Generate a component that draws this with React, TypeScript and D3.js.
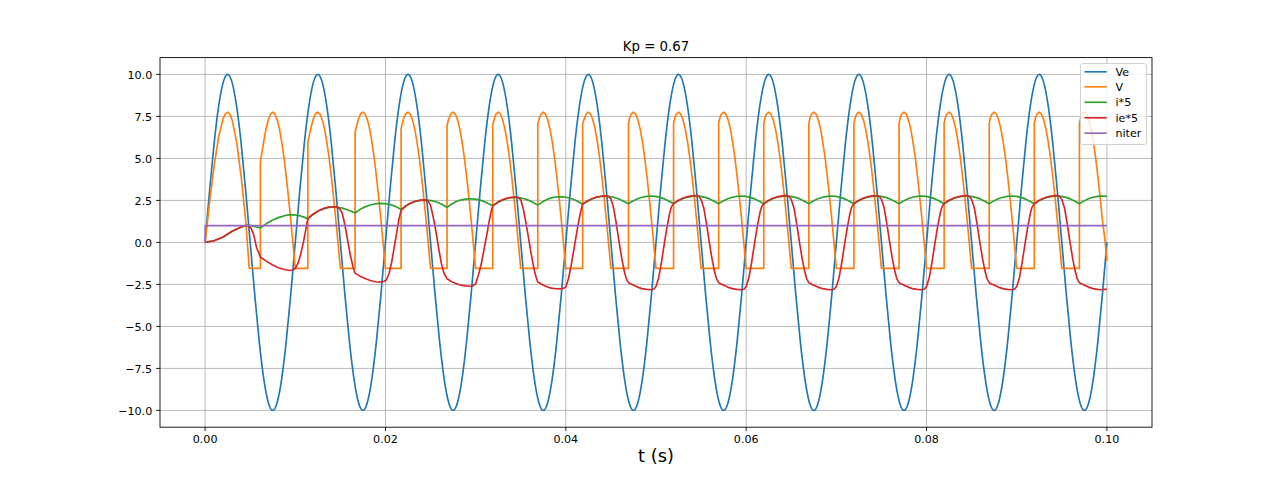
import React from 'react';
import * as d3 from 'd3';

type Pt = [number, number];

const TITLE = 'Kp = 0.67';
const X_LABEL = 't (s)';
const X_TICKS = [0, 0.02, 0.04, 0.06, 0.08, 0.1];
const Y_TICKS = [-10, -7.5, -5, -2.5, 0, 2.5, 5, 7.5, 10];
const SERIES_NAMES = ['Ve', 'V', 'i*5', 'ie*5', 'niter'];
const SERIES_COLORS = ['#1f77b4', '#ff7f0e', '#2ca02c', '#d62728', '#9467bd'];

// Ve sampled every 0.5 ms from t = 0
const VE_T0 = 0;
const VE_DT = 0.0005;
const VE_VALUES = [
  0, 3.09, 5.88, 8.09, 9.51, 10, 9.51, 8.09, 5.88, 3.09, 0, -3.09, -5.88, -8.09, -9.51, -10, -9.51, -8.09, -5.88, -3.09,
  0, 3.09, 5.88, 8.09, 9.51, 10, 9.51, 8.09, 5.88, 3.09, 0, -3.09, -5.88, -8.09, -9.51, -10, -9.51, -8.09, -5.88, -3.09,
  0, 3.09, 5.88, 8.09, 9.51, 10, 9.51, 8.09, 5.88, 3.09, 0, -3.09, -5.88, -8.09, -9.51, -10, -9.51, -8.09, -5.88, -3.09,
  0, 3.09, 5.88, 8.09, 9.51, 10, 9.51, 8.09, 5.88, 3.09, 0, -3.09, -5.88, -8.09, -9.51, -10, -9.51, -8.09, -5.88, -3.09,
  0, 3.09, 5.88, 8.09, 9.51, 10, 9.51, 8.09, 5.88, 3.09, 0, -3.09, -5.88, -8.09, -9.51, -10, -9.51, -8.09, -5.88, -3.09,
  0, 3.09, 5.88, 8.09, 9.51, 10, 9.51, 8.09, 5.88, 3.09, 0, -3.09, -5.88, -8.09, -9.51, -10, -9.51, -8.09, -5.88, -3.09,
  0, 3.09, 5.88, 8.09, 9.51, 10, 9.51, 8.09, 5.88, 3.09, 0, -3.09, -5.88, -8.09, -9.51, -10, -9.51, -8.09, -5.88, -3.09,
  0, 3.09, 5.88, 8.09, 9.51, 10, 9.51, 8.09, 5.88, 3.09, 0, -3.09, -5.88, -8.09, -9.51, -10, -9.51, -8.09, -5.88, -3.09,
  0, 3.09, 5.88, 8.09, 9.51, 10, 9.51, 8.09, 5.88, 3.09, 0, -3.09, -5.88, -8.09, -9.51, -10, -9.51, -8.09, -5.88, -3.09,
  0, 3.09, 5.88, 8.09, 9.51, 10, 9.51, 8.09, 5.88, 3.09, 0, -3.09, -5.88, -8.09, -9.51, -10, -9.51, -8.09, -5.88, -3.09,
  0,
];

// V: [t, value]
const V_POINTS: Pt[] = [
  [0, 0], [0.0005, 2.39], [0.001, 4.56], [0.0015, 6.27], [0.002, 7.37], [0.00225, 7.65], [0.0025, 7.75], [0.00275, 7.64], [0.003, 7.29], [0.0035, 5.97], [0.004, 3.92], [0.0045, 1.32], [0.0049, -1.55],
  [0.00613, -1.55], [0.00613, 4.78], [0.0065, 6.0], [0.00675, 6.75], [0.007, 7.29], [0.00725, 7.64], [0.0075, 7.75], [0.00775, 7.64], [0.008, 7.29], [0.00825, 6.74], [0.0085, 5.97], [0.00875, 5.03], [0.009, 3.92], [0.00925, 2.67], [0.0095, 1.32], [0.00975, -0.1], [0.01, -1.55],
  [0.01139, -1.55], [0.01139, 5.97], [0.01175, 6.85], [0.012, 7.35], [0.01225, 7.66], [0.0125, 7.75], [0.01275, 7.64], [0.013, 7.29], [0.01325, 6.74], [0.0135, 5.97], [0.01375, 5.03], [0.014, 3.92], [0.01425, 2.67], [0.0145, 1.32], [0.01475, -0.1], [0.015, -1.55],
  [0.01663, -1.55], [0.01663, 6.57], [0.017, 7.35], [0.01725, 7.66], [0.0175, 7.75], [0.01775, 7.64], [0.018, 7.29], [0.01825, 6.74], [0.0185, 5.97], [0.01875, 5.03], [0.019, 3.92], [0.01925, 2.67], [0.0195, 1.32], [0.01975, -0.1], [0.02, -1.55],
  [0.02173, -1.55], [0.02173, 6.77], [0.022, 7.35], [0.02225, 7.66], [0.0225, 7.75], [0.02275, 7.64], [0.023, 7.29], [0.02325, 6.74], [0.0235, 5.97], [0.02375, 5.03], [0.024, 3.92], [0.02425, 2.67], [0.0245, 1.32], [0.02475, -0.1], [0.025, -1.55],
  [0.02683, -1.55], [0.02683, 6.96], [0.027, 7.32], [0.02725, 7.65], [0.0275, 7.75], [0.02775, 7.64], [0.028, 7.29], [0.02825, 6.74], [0.0285, 5.97], [0.02875, 5.03], [0.029, 3.92], [0.02925, 2.67], [0.0295, 1.32], [0.02975, -0.1], [0.03, -1.55],
  [0.0319, -1.55], [0.0319, 7.0], [0.0321, 7.4], [0.03225, 7.64], [0.0325, 7.75], [0.03275, 7.64], [0.033, 7.29], [0.03325, 6.74], [0.0335, 5.97], [0.03375, 5.03], [0.034, 3.92], [0.03425, 2.67], [0.0345, 1.32], [0.03475, -0.1], [0.035, -1.55],
  [0.03689, -1.55], [0.03689, 7.05], [0.0371, 7.45], [0.03725, 7.64], [0.0375, 7.75], [0.03775, 7.64], [0.038, 7.29], [0.03825, 6.74], [0.0385, 5.97], [0.03875, 5.03], [0.039, 3.92], [0.03925, 2.67], [0.0395, 1.32], [0.03975, -0.1], [0.04, -1.55],
  [0.04187, -1.55], [0.04187, 7.07], [0.0421, 7.45], [0.04225, 7.64], [0.0425, 7.75], [0.04275, 7.64], [0.043, 7.29], [0.04325, 6.74], [0.0435, 5.97], [0.04375, 5.03], [0.044, 3.92], [0.04425, 2.67], [0.0445, 1.32], [0.04475, -0.1], [0.045, -1.55],
  [0.04695, -1.55], [0.04695, 7.1], [0.0471, 7.45], [0.04725, 7.64], [0.0475, 7.75], [0.04775, 7.64], [0.048, 7.29], [0.04825, 6.74], [0.0485, 5.97], [0.04875, 5.03], [0.049, 3.92], [0.04925, 2.67], [0.0495, 1.32], [0.04975, -0.1], [0.05, -1.55],
  [0.05195, -1.55], [0.05195, 7.1], [0.0521, 7.45], [0.05225, 7.64], [0.0525, 7.75], [0.05275, 7.64], [0.053, 7.29], [0.05325, 6.74], [0.0535, 5.97], [0.05375, 5.03], [0.054, 3.92], [0.05425, 2.67], [0.0545, 1.32], [0.05475, -0.1], [0.055, -1.55],
  [0.05695, -1.55], [0.05695, 7.1], [0.0571, 7.45], [0.05725, 7.64], [0.0575, 7.75], [0.05775, 7.64], [0.058, 7.29], [0.05825, 6.74], [0.0585, 5.97], [0.05875, 5.03], [0.059, 3.92], [0.05925, 2.67], [0.0595, 1.32], [0.05975, -0.1], [0.06, -1.55],
  [0.06195, -1.55], [0.06195, 7.1], [0.0621, 7.45], [0.06225, 7.64], [0.0625, 7.75], [0.06275, 7.64], [0.063, 7.29], [0.06325, 6.74], [0.0635, 5.97], [0.06375, 5.03], [0.064, 3.92], [0.06425, 2.67], [0.0645, 1.32], [0.06475, -0.1], [0.065, -1.55],
  [0.06695, -1.55], [0.06695, 7.1], [0.0671, 7.45], [0.06725, 7.64], [0.0675, 7.75], [0.06775, 7.64], [0.068, 7.29], [0.06825, 6.74], [0.0685, 5.97], [0.06875, 5.03], [0.069, 3.92], [0.06925, 2.67], [0.0695, 1.32], [0.06975, -0.1], [0.07, -1.55],
  [0.07195, -1.55], [0.07195, 7.1], [0.0721, 7.45], [0.07225, 7.64], [0.0725, 7.75], [0.07275, 7.64], [0.073, 7.29], [0.07325, 6.74], [0.0735, 5.97], [0.07375, 5.03], [0.074, 3.92], [0.07425, 2.67], [0.0745, 1.32], [0.07475, -0.1], [0.075, -1.55],
  [0.07695, -1.55], [0.07695, 7.1], [0.0771, 7.45], [0.07725, 7.64], [0.0775, 7.75], [0.07775, 7.64], [0.078, 7.29], [0.07825, 6.74], [0.0785, 5.97], [0.07875, 5.03], [0.079, 3.92], [0.07925, 2.67], [0.0795, 1.32], [0.07975, -0.1], [0.08, -1.55],
  [0.08195, -1.55], [0.08195, 7.1], [0.0821, 7.45], [0.08225, 7.64], [0.0825, 7.75], [0.08275, 7.64], [0.083, 7.29], [0.08325, 6.74], [0.0835, 5.97], [0.08375, 5.03], [0.084, 3.92], [0.08425, 2.67], [0.0845, 1.32], [0.08475, -0.1], [0.085, -1.55],
  [0.08695, -1.55], [0.08695, 7.1], [0.0871, 7.45], [0.08725, 7.64], [0.0875, 7.75], [0.08775, 7.64], [0.088, 7.29], [0.08825, 6.74], [0.0885, 5.97], [0.08875, 5.03], [0.089, 3.92], [0.08925, 2.67], [0.0895, 1.32], [0.08975, -0.1], [0.09, -1.55],
  [0.09195, -1.55], [0.09195, 7.1], [0.0921, 7.45], [0.09225, 7.64], [0.0925, 7.75], [0.09275, 7.64], [0.093, 7.29], [0.09325, 6.74], [0.0935, 5.97], [0.09375, 5.03], [0.094, 3.92], [0.09425, 2.67], [0.0945, 1.32], [0.09475, -0.1], [0.095, -1.55],
  [0.09695, -1.55], [0.09695, 7.1], [0.0971, 7.45], [0.09725, 7.64], [0.0975, 7.75], [0.09775, 7.64], [0.098, 7.29], [0.09825, 6.74], [0.0985, 5.97], [0.09875, 5.03], [0.099, 3.92], [0.09925, 2.67], [0.0995, 1.32], [0.09975, 0.3], [0.1, -1.1],
];

// i*5: [t, value]
const I5_POINTS: Pt[] = [
  [0, 0], [0.001, 0.1], [0.002, 0.32], [0.003, 0.66], [0.004, 0.92], [0.0047, 1.03], [0.0055, 0.95],
  [0.00613, 0.86], [0.0068, 1.12], [0.0075, 1.33], [0.0082, 1.49], [0.0089, 1.6], [0.0094, 1.65], [0.0099, 1.64], [0.0104, 1.6], [0.0109, 1.52],
  [0.01139, 1.41], [0.012, 1.68], [0.0126, 1.88], [0.0132, 2.01], [0.0137, 2.08], [0.0142, 2.1], [0.0147, 2.09], [0.0152, 2.04], [0.0157, 1.96], [0.0162, 1.85],
  [0.01663, 1.75], [0.0172, 1.97], [0.0178, 2.13], [0.0184, 2.24], [0.0189, 2.3], [0.0194, 2.32], [0.0199, 2.31], [0.0204, 2.27], [0.0209, 2.19], [0.0213, 2.09],
  [0.02173, 1.96], [0.0223, 2.18], [0.0228, 2.33], [0.0233, 2.44], [0.0239, 2.5], [0.0244, 2.52], [0.0249, 2.5], [0.0254, 2.45], [0.0259, 2.36], [0.0264, 2.23],
  [0.02683, 2.08], [0.0273, 2.27], [0.0278, 2.42], [0.0283, 2.52], [0.0289, 2.58], [0.0294, 2.6], [0.0299, 2.58], [0.0304, 2.53], [0.0309, 2.44], [0.0314, 2.32],
  [0.0319, 2.18], [0.0324, 2.36], [0.0329, 2.5], [0.0334, 2.6], [0.0339, 2.66], [0.0344, 2.68], [0.0349, 2.66], [0.0354, 2.6], [0.0359, 2.5], [0.0364, 2.37],
  [0.03689, 2.22], [0.0374, 2.4], [0.0379, 2.55], [0.0384, 2.65], [0.0389, 2.7], [0.0394, 2.72], [0.0399, 2.7], [0.0404, 2.64], [0.0409, 2.55], [0.0414, 2.42],
  [0.04187, 2.27], [0.0424, 2.45], [0.0429, 2.58], [0.0434, 2.68], [0.0439, 2.73], [0.0444, 2.75], [0.0449, 2.73], [0.0454, 2.67], [0.0459, 2.58], [0.0464, 2.45],
  [0.04695, 2.3], [0.04745, 2.47], [0.04795, 2.6], [0.04845, 2.69], [0.04895, 2.74], [0.04945, 2.76], [0.04995, 2.74], [0.05045, 2.68], [0.05095, 2.59], [0.05145, 2.45],
  [0.05195, 2.3], [0.05245, 2.47], [0.05295, 2.6], [0.05345, 2.69], [0.05395, 2.74], [0.05445, 2.76], [0.05495, 2.74], [0.05545, 2.68], [0.05595, 2.59], [0.05645, 2.45],
  [0.05695, 2.3], [0.05745, 2.47], [0.05795, 2.6], [0.05845, 2.69], [0.05895, 2.74], [0.05945, 2.76], [0.05995, 2.74], [0.06045, 2.68], [0.06095, 2.59], [0.06145, 2.45],
  [0.06195, 2.3], [0.06245, 2.47], [0.06295, 2.6], [0.06345, 2.69], [0.06395, 2.74], [0.06445, 2.76], [0.06495, 2.74], [0.06545, 2.68], [0.06595, 2.59], [0.06645, 2.45],
  [0.06695, 2.3], [0.06745, 2.47], [0.06795, 2.6], [0.06845, 2.69], [0.06895, 2.74], [0.06945, 2.76], [0.06995, 2.74], [0.07045, 2.68], [0.07095, 2.59], [0.07145, 2.45],
  [0.07195, 2.3], [0.07245, 2.47], [0.07295, 2.6], [0.07345, 2.69], [0.07395, 2.74], [0.07445, 2.76], [0.07495, 2.74], [0.07545, 2.68], [0.07595, 2.59], [0.07645, 2.45],
  [0.07695, 2.3], [0.07745, 2.47], [0.07795, 2.6], [0.07845, 2.69], [0.07895, 2.74], [0.07945, 2.76], [0.07995, 2.74], [0.08045, 2.68], [0.08095, 2.59], [0.08145, 2.45],
  [0.08195, 2.3], [0.08245, 2.47], [0.08295, 2.6], [0.08345, 2.69], [0.08395, 2.74], [0.08445, 2.76], [0.08495, 2.74], [0.08545, 2.68], [0.08595, 2.59], [0.08645, 2.45],
  [0.08695, 2.3], [0.08745, 2.47], [0.08795, 2.6], [0.08845, 2.69], [0.08895, 2.74], [0.08945, 2.76], [0.08995, 2.74], [0.09045, 2.68], [0.09095, 2.59], [0.09145, 2.45],
  [0.09195, 2.3], [0.09245, 2.47], [0.09295, 2.6], [0.09345, 2.69], [0.09395, 2.74], [0.09445, 2.76], [0.09495, 2.74], [0.09545, 2.68], [0.09595, 2.59], [0.09645, 2.45],
  [0.09695, 2.3], [0.09745, 2.47], [0.09795, 2.6], [0.09845, 2.69], [0.09895, 2.74], [0.09945, 2.76], [0.1, 2.74],
];

// ie*5: [t, value]
const IE5_POINTS: Pt[] = [
  [0, 0], [0.001, 0.1], [0.002, 0.32], [0.003, 0.66], [0.004, 0.92], [0.0045, 0.99], [0.0048, 1.0], [0.0051, 0.85], [0.0054, 0.45], [0.0057, -0.3], [0.00613, -0.87],
  [0.0068, -1.13], [0.0075, -1.35], [0.0082, -1.52], [0.0089, -1.63], [0.0094, -1.67], [0.0097, -1.64], [0.01, -1.55], [0.0103, -1.25], [0.0106, -0.7], [0.0109, 0.0], [0.0112, 0.85], [0.01139, 1.41],
  [0.012, 1.69], [0.0126, 1.89], [0.0132, 2.03], [0.0137, 2.1], [0.0142, 2.12], [0.0146, 2.1], [0.0149, 2.02], [0.0152, 1.75], [0.0155, 1.05], [0.0158, 0.15], [0.0161, -0.75], [0.0164, -1.45], [0.01663, -1.83],
  [0.0172, -2.02], [0.0178, -2.16], [0.0184, -2.28], [0.0189, -2.34], [0.0194, -2.36], [0.0198, -2.33], [0.0201, -2.24], [0.0204, -1.85], [0.0207, -1.15], [0.021, -0.2], [0.0213, 0.75], [0.0215, 1.4], [0.02173, 1.9],
  [0.0223, 2.19], [0.0228, 2.34], [0.0233, 2.45], [0.0239, 2.52], [0.0244, 2.53], [0.0247, 2.47], [0.025, 2.22], [0.0253, 1.5], [0.0256, 0.65], [0.0259, -0.35], [0.0262, -1.25], [0.0265, -1.85], [0.02683, -2.16],
  [0.0273, -2.33], [0.0278, -2.45], [0.0283, -2.54], [0.0289, -2.59], [0.0294, -2.61], [0.0297, -2.58], [0.03, -2.46], [0.0303, -1.95], [0.0306, -1.35], [0.0309, -0.5], [0.0312, 0.35], [0.0315, 1.25], [0.0317, 1.8], [0.0319, 2.18],
  [0.0324, 2.37], [0.0329, 2.52], [0.0334, 2.62], [0.0339, 2.68], [0.0344, 2.7], [0.0347, 2.67], [0.035, 2.55], [0.0353, 1.95], [0.0356, 1.1], [0.0359, 0.15], [0.0362, -0.8], [0.0365, -1.65], [0.0367, -2.05], [0.03689, -2.36],
  [0.0374, -2.52], [0.0379, -2.64], [0.0384, -2.72], [0.0389, -2.76], [0.0394, -2.77], [0.0397, -2.74], [0.04, -2.66], [0.0403, -2.15], [0.0406, -1.35], [0.0409, -0.4], [0.0412, 0.55], [0.0415, 1.45], [0.0417, 1.95], [0.04187, 2.28],
  [0.0424, 2.47], [0.0429, 2.6], [0.0434, 2.7], [0.0439, 2.75], [0.0444, 2.77], [0.0447, 2.74], [0.045, 2.6], [0.0453, 2.05], [0.0456, 1.1], [0.0459, 0.05], [0.0462, -0.95], [0.0465, -1.75], [0.0467, -2.15], [0.04695, -2.4],
  [0.04745, -2.53], [0.04795, -2.66], [0.04845, -2.75], [0.04895, -2.8], [0.04945, -2.82], [0.04975, -2.79], [0.05, -2.62], [0.0503, -2.1], [0.0506, -1.2], [0.0509, -0.15], [0.0512, 0.85], [0.0515, 1.7], [0.0517, 2.1], [0.05195, 2.3],
  [0.05245, 2.5], [0.05295, 2.63], [0.05345, 2.72], [0.05395, 2.77], [0.05445, 2.79], [0.05475, 2.74], [0.055, 2.55], [0.0553, 2.05], [0.0556, 1.1], [0.0559, 0.05], [0.0562, -0.95], [0.0565, -1.75], [0.0567, -2.15], [0.05695, -2.4],
  [0.05745, -2.53], [0.05795, -2.66], [0.05845, -2.75], [0.05895, -2.8], [0.05945, -2.82], [0.05975, -2.79], [0.06, -2.62], [0.0603, -2.1], [0.0606, -1.2], [0.0609, -0.15], [0.0612, 0.85], [0.0615, 1.7], [0.0617, 2.1], [0.06195, 2.3],
  [0.06245, 2.5], [0.06295, 2.63], [0.06345, 2.72], [0.06395, 2.77], [0.06445, 2.79], [0.06475, 2.74], [0.065, 2.55], [0.0653, 2.05], [0.0656, 1.1], [0.0659, 0.05], [0.0662, -0.95], [0.0665, -1.75], [0.0667, -2.15], [0.06695, -2.4],
  [0.06745, -2.53], [0.06795, -2.66], [0.06845, -2.75], [0.06895, -2.8], [0.06945, -2.82], [0.06975, -2.79], [0.07, -2.62], [0.0703, -2.1], [0.0706, -1.2], [0.0709, -0.15], [0.0712, 0.85], [0.0715, 1.7], [0.0717, 2.1], [0.07195, 2.3],
  [0.07245, 2.5], [0.07295, 2.63], [0.07345, 2.72], [0.07395, 2.77], [0.07445, 2.79], [0.07475, 2.74], [0.075, 2.55], [0.0753, 2.05], [0.0756, 1.1], [0.0759, 0.05], [0.0762, -0.95], [0.0765, -1.75], [0.0767, -2.15], [0.07695, -2.4],
  [0.07745, -2.53], [0.07795, -2.66], [0.07845, -2.75], [0.07895, -2.8], [0.07945, -2.82], [0.07975, -2.79], [0.08, -2.62], [0.0803, -2.1], [0.0806, -1.2], [0.0809, -0.15], [0.0812, 0.85], [0.0815, 1.7], [0.0817, 2.1], [0.08195, 2.3],
  [0.08245, 2.5], [0.08295, 2.63], [0.08345, 2.72], [0.08395, 2.77], [0.08445, 2.79], [0.08475, 2.74], [0.085, 2.55], [0.0853, 2.05], [0.0856, 1.1], [0.0859, 0.05], [0.0862, -0.95], [0.0865, -1.75], [0.0867, -2.15], [0.08695, -2.4],
  [0.08745, -2.53], [0.08795, -2.66], [0.08845, -2.75], [0.08895, -2.8], [0.08945, -2.82], [0.08975, -2.79], [0.09, -2.62], [0.0903, -2.1], [0.0906, -1.2], [0.0909, -0.15], [0.0912, 0.85], [0.0915, 1.7], [0.0917, 2.1], [0.09195, 2.3],
  [0.09245, 2.5], [0.09295, 2.63], [0.09345, 2.72], [0.09395, 2.77], [0.09445, 2.79], [0.09475, 2.74], [0.095, 2.55], [0.0953, 2.05], [0.0956, 1.1], [0.0959, 0.05], [0.0962, -0.95], [0.0965, -1.75], [0.0967, -2.15], [0.09695, -2.4],
  [0.09745, -2.53], [0.09795, -2.66], [0.09845, -2.75], [0.09895, -2.8], [0.09945, -2.82], [0.1, -2.78],
];

// niter: [t, value]
const NITER_POINTS: Pt[] = [[0, 0], [0.00002, 1], [0.1, 1]];

const FONT = 'DejaVu Sans, sans-serif';

export default function App() {
  const W = 1280;
  const H = 480;
  const left = 160, right = 1152, top = 57.6, bottom = 427.2;

  const x = d3.scaleLinear().domain([-0.005, 0.105]).range([left, right]);
  const y = d3.scaleLinear().domain([-11, 11]).range([bottom, top]);

  const linePts = d3.line<Pt>().x(d => x(d[0])).y(d => y(d[1]));
  const veLine = d3
    .line<number>()
    .x((_, i) => x(VE_T0 + i * VE_DT))
    .y(d => y(d))
    .curve(d3.curveNatural);

  const fx = d3.format('.2f');
  const fy = d3.format('.1f');

  const paths = [
    veLine(VE_VALUES),
    linePts(V_POINTS),
    linePts(I5_POINTS),
    linePts(IE5_POINTS),
    linePts(NITER_POINTS),
  ];

  const tickFont = 11.1;
  const lw = 1.67;
  const legX = 1080.5, legY = 63.5, legW = 66, legH = 81;
  const rowY = [71.8, 86.8, 102.3, 117.8, 133.2];

  return (
    <svg
      width={W}
      height={H}
      viewBox={`0 0 ${W} ${H}`}
      style={{ position: 'absolute', left: 0, top: 0, background: '#fff' }}
      fontFamily={FONT}
    >
      <rect x={0} y={0} width={W} height={H} fill="#fff" />
      <defs>
        <clipPath id="plot-clip">
          <rect x={left} y={top} width={right - left} height={bottom - top} />
        </clipPath>
      </defs>

      {/* grid */}
      <g stroke="#b0b0b0" strokeWidth={0.89}>
        {X_TICKS.map(t => (
          <line key={'gx' + t} x1={x(t)} x2={x(t)} y1={top} y2={bottom} />
        ))}
        {Y_TICKS.map(t => (
          <line key={'gy' + t} x1={left} x2={right} y1={y(t)} y2={y(t)} />
        ))}
      </g>

      {/* series */}
      <g clipPath="url(#plot-clip)" fill="none" strokeWidth={lw} strokeLinejoin="round" strokeLinecap="butt">
        {paths.map((p, i) => (
          <path key={SERIES_NAMES[i]} d={p || ''} stroke={SERIES_COLORS[i]} />
        ))}
      </g>

      {/* spines */}
      <rect x={left} y={top} width={right - left} height={bottom - top} fill="none" stroke="#000" strokeWidth={0.89} />

      {/* x ticks */}
      <g>
        {X_TICKS.map(t => (
          <g key={'xt' + t}>
            <line x1={x(t)} x2={x(t)} y1={bottom} y2={bottom + 3.9} stroke="#000" strokeWidth={0.89} />
            <text x={x(t)} y={bottom + 16} fontSize={tickFont} textAnchor="middle" fill="#000">
              {fx(t)}
            </text>
          </g>
        ))}
      </g>

      {/* y ticks */}
      <g>
        {Y_TICKS.map(t => (
          <g key={'yt' + t}>
            <line x1={left - 3.9} x2={left} y1={y(t)} y2={y(t)} stroke="#000" strokeWidth={0.89} />
            <text x={left - 7.8} y={y(t) + 4.1} fontSize={tickFont} textAnchor="end" fill="#000">
              {fy(t)}
            </text>
          </g>
        ))}
      </g>

      {/* title and label */}
      <text x={(left + right) / 2} y={50.8} fontSize={13.33} textAnchor="middle" fill="#000">
        {TITLE}
      </text>
      <text x={(left + right) / 2} y={462} fontSize={17.8} textAnchor="middle" fill="#000">
        {X_LABEL}
      </text>

      {/* legend */}
      <g>
        <rect x={legX} y={legY} width={legW} height={legH} rx={2.5} fill="#fff" fillOpacity={0.8} stroke="#cccccc" strokeWidth={0.89} />
        {SERIES_NAMES.map((n, i) => (
          <g key={'lg' + n}>
            <line x1={1084.5} x2={1106.7} y1={rowY[i]} y2={rowY[i]} stroke={SERIES_COLORS[i]} strokeWidth={lw} />
            <text x={1115.5} y={rowY[i] + 4} fontSize={tickFont} fill="#000">
              {n}
            </text>
          </g>
        ))}
      </g>
    </svg>
  );
}
